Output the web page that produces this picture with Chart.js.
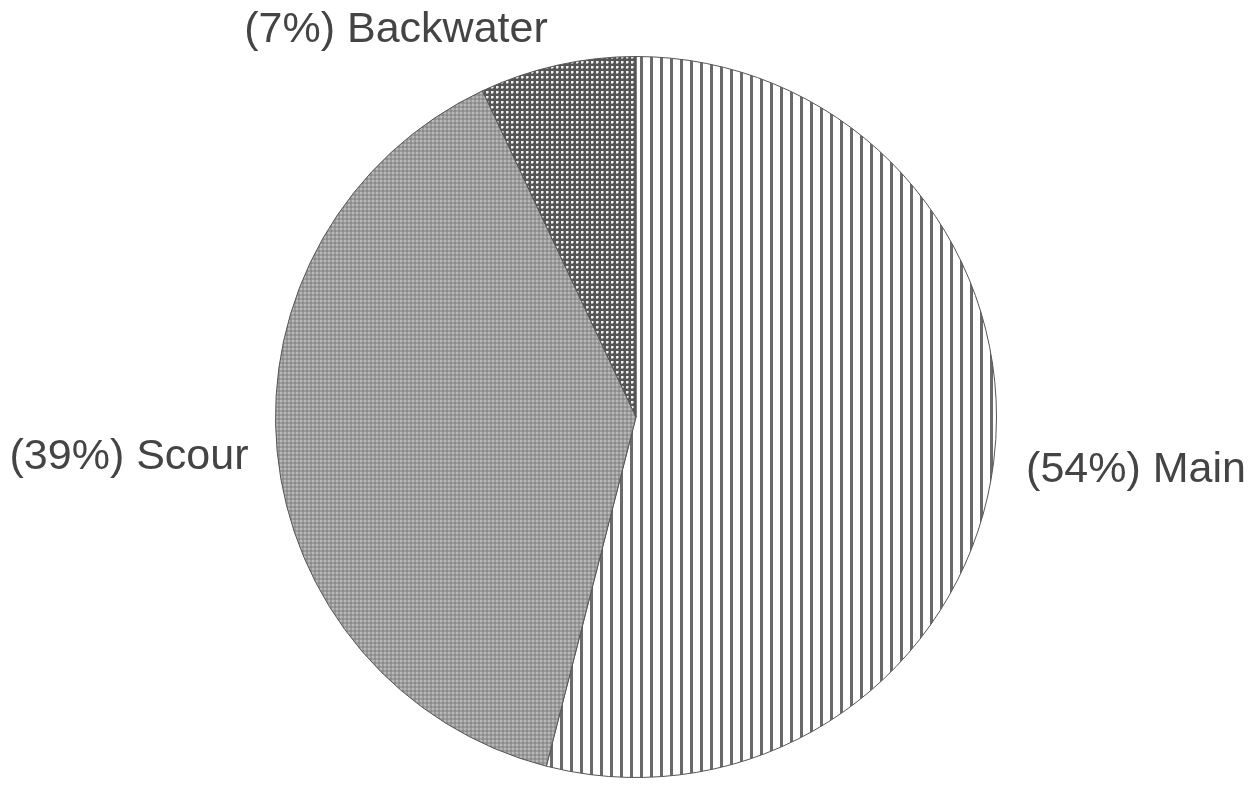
<!DOCTYPE html>
<html>
<head>
<meta charset="utf-8">
<script src="https://cdn.jsdelivr.net/npm/chart.js@4"></script>
<style>
  html, body { margin: 0; padding: 0; background: #fff; }
  #wrap { width: 1253px; height: 789px; position: relative; }
</style>
</head>
<body>
<div id="wrap"><canvas id="pieChart" width="1253" height="789"></canvas></div>
<script>
// Data
const categories = ["Main", "Scour", "Backwater"]
const shares = [54, 39, 7]

// Fill patterns like the scanned original
function makePattern(size, draw) {
  const c = document.createElement("canvas")
  c.width = size
  c.height = size
  draw(c.getContext("2d"))
  return document.createElement("canvas").getContext("2d").createPattern(c, "repeat")
}

const stripes = makePattern(10, (g) => {
  g.fillStyle = "#fff"
  g.fillRect(0, 0, 10, 10)
  g.fillStyle = "#6a6a6a"
  g.fillRect(0, 0, 3, 10)
})

const speckle = makePattern(4, (g) => {
  g.fillStyle = "#9c9c9c"
  g.fillRect(0, 0, 4, 4)
  g.fillStyle = "#b8b8b8"
  g.fillRect(0, 0, 2, 2)
  g.fillStyle = "#8a8a8a"
  g.fillRect(2, 2, 2, 2)
})

const checks = makePattern(5, (g) => {
  g.fillStyle = "#555"
  g.fillRect(0, 0, 5, 5)
  g.fillStyle = "#f0f0f0"
  g.fillRect(1, 1, 2, 2)
  g.fillStyle = "#a8a8a8"
  g.fillRect(3, 1, 1, 2)
  g.fillRect(1, 3, 2, 1)
})

// Labels sit around the pie, offsets relative to the pie centre
const labelSpots = {
  Main: { dx: 500, dy: 53 },
  Scour: { dx: -507, dy: 40 },
  Backwater: { dx: -240, dy: -387 },
}

const outsideLabels = {
  id: "outsideLabels",
  afterDraw(chart) {
    const meta = chart.getDatasetMeta(0)
    const arc = meta.data[0]
    if (!arc) return
    const ctx = chart.ctx
    ctx.save()
    ctx.font = "43px 'Liberation Sans', Arial, sans-serif"
    ctx.fillStyle = "#444"
    ctx.textAlign = "center"
    ctx.textBaseline = "middle"
    categories.forEach((name, i) => {
      const spot = labelSpots[name]
      ctx.fillText("(" + shares[i] + "%) " + name, arc.x + spot.dx, arc.y + spot.dy)
    })
    ctx.restore()
  },
}

new Chart(document.getElementById("pieChart"), {
  type: "pie",
  data: {
    labels: categories,
    datasets: [
      {
        data: shares,
        backgroundColor: [stripes, speckle, checks],
        borderColor: "#555",
        borderWidth: 1,
      },
    ],
  },
  options: {
    responsive: false,
    animation: false,
    devicePixelRatio: 1,
    layout: { padding: { top: 56, bottom: 11, left: 275, right: 256 } },
    plugins: {
      legend: { display: false },
      tooltip: { enabled: false },
    },
  },
  plugins: [outsideLabels],
})
</script>
</body>
</html>
